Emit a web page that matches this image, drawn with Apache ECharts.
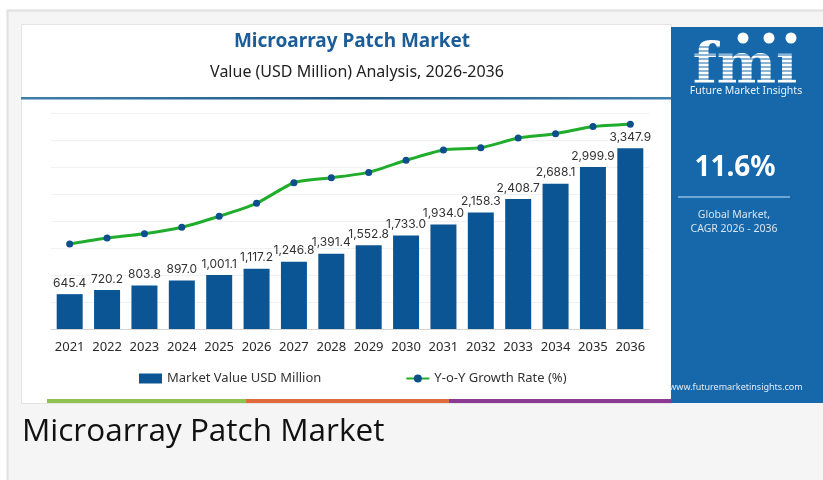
<!DOCTYPE html>
<html>
<head>
<meta charset="utf-8">
<script src="https://cdn.jsdelivr.net/npm/echarts@6/dist/echarts.min.js"></script>
<style>
  html, body { margin: 0; padding: 0; background: #fff; }
  #chart { width: 823px; height: 480px; }
</style>
</head>
<body>
<div id="chart"></div>
<script>
// data
const years = ['2021', '2022', '2023', '2024', '2025', '2026', '2027', '2028',
  '2029', '2030', '2031', '2032', '2033', '2034', '2035', '2036']
const marketValue = [645.4, 720.2, 803.8, 897.0, 1001.1, 1117.2, 1246.8, 1391.4,
  1552.8, 1733.0, 1934.0, 2158.3, 2408.7, 2688.1, 2999.9, 3347.9]
// growth line has no printed values, these are estimated positions on a hidden 0-100 axis
const growthRate = [39.4, 42.1, 44.1, 47.1, 52.2, 58.2, 67.7, 70.0,
  72.5, 78.1, 82.9, 83.9, 88.4, 90.4, 93.7, 94.8]
const cagr = '11.6%'

const FONT = 'Noto Sans'
const PANEL = '#1668aa'

const fmt = (v) => v.toLocaleString('en-US', { minimumFractionDigits: 1, maximumFractionDigits: 1 })

// stripes over the fmi letters
const stripes = []
for (let y = 47; y <= 83; y += 4) {
  stripes.push({
    type: 'line', z: 6, silent: true,
    shape: { x1: 686, y1: y, x2: 806, y2: y },
    style: { stroke: PANEL, lineWidth: 1.1 }
  })
}

const chart = echarts.init(document.getElementById('chart'))

chart.setOption({
  animation: false,
  textStyle: { fontFamily: FONT },
  graphic: [
    // outer card
    { type: 'rect', z: -5, shape: { x: 7.5, y: 10.5, width: 830, height: 480 },
      style: { fill: '#f5f5f5', stroke: '#e0e0e0', lineWidth: 2 } },
    // image area
    { type: 'rect', z: -4, shape: { x: 21.5, y: 24.5, width: 650, height: 379 },
      style: { fill: '#fff', stroke: '#e4e4e4', lineWidth: 1 } },
    // separator under title
    { type: 'rect', z: -3, shape: { x: 21, y: 97, width: 650, height: 2.5 },
      style: { fill: new echarts.graphic.LinearGradient(0, 0, 1, 0, [
        { offset: 0, color: '#3f7fae' }, { offset: 0.5, color: '#1d5a88' }, { offset: 1, color: '#3f7fae' }]) } },
    // bottom colour strip
    { type: 'rect', z: -3, shape: { x: 47, y: 399, width: 199, height: 4 }, style: { fill: '#8fc24f' } },
    { type: 'rect', z: -3, shape: { x: 246, y: 399, width: 203, height: 4 }, style: { fill: '#e06b3c' } },
    { type: 'rect', z: -3, shape: { x: 449, y: 399, width: 222, height: 4 }, style: { fill: '#8b3a93' } },
    // right panel
    { type: 'rect', z: -3, shape: { x: 671, y: 27, width: 152, height: 376 }, style: { fill: PANEL } },
    { type: 'text', z: 5, x: 745, y: 96,
      style: { text: 'fmı', fill: '#fff', font: 'bold 56px "DejaVu Serif"', textAlign: 'center', textVerticalAlign: 'bottom' } },
    ...stripes,
    { type: 'circle', z: 7, shape: { cx: 743, cy: 38, r: 5.5 }, style: { fill: '#fff' } },
    { type: 'circle', z: 7, shape: { cx: 769, cy: 38, r: 5.5 }, style: { fill: '#fff' } },
    { type: 'circle', z: 7, shape: { cx: 791, cy: 38, r: 5.5 }, style: { fill: '#fff' } },
    { type: 'text', z: 7, x: 746, y: 91,
      style: { text: 'Future Market Insights', fill: '#e8f0f8', font: '10.5px ' + FONT, textAlign: 'center', textVerticalAlign: 'middle' } },
    { type: 'text', z: 7, x: 735, y: 168,
      style: { text: cagr, fill: '#fff', font: 'bold 28px ' + FONT, textAlign: 'center', textVerticalAlign: 'middle' } },
    { type: 'line', z: 7, shape: { x1: 678, y1: 197, x2: 790, y2: 197 }, style: { stroke: '#8dbbe0', lineWidth: 1.5 } },
    { type: 'text', z: 7, x: 734, y: 215,
      style: { text: 'Global Market,', fill: '#d6e4f1', font: '10.5px ' + FONT, textAlign: 'center', textVerticalAlign: 'middle' } },
    { type: 'text', z: 7, x: 734, y: 229,
      style: { text: 'CAGR 2026 - 2036', fill: '#d6e4f1', font: '10.5px ' + FONT, textAlign: 'center', textVerticalAlign: 'middle' } },
    { type: 'text', z: 7, x: 736, y: 387,
      style: { text: 'www.futuremarketinsights.com', fill: '#e0ebf5', font: '9px ' + FONT, textAlign: 'center', textVerticalAlign: 'middle' } },
    // titles
    { type: 'text', z: 7, x: 352, y: 42,
      style: { text: 'Microarray Patch Market', fill: '#1c5d98', font: 'bold 19px ' + FONT, textAlign: 'center', textVerticalAlign: 'middle' } },
    { type: 'text', z: 7, x: 357, y: 72,
      style: { text: 'Value (USD Million) Analysis, 2026-2036', fill: '#222', font: '16px ' + FONT, textAlign: 'center', textVerticalAlign: 'middle' } },
    // caption below image
    { type: 'text', z: 7, x: 22, y: 432,
      style: { text: 'Microarray Patch Market', fill: '#111', font: '31.5px "Open Sans"', textAlign: 'left', textVerticalAlign: 'middle' } }
  ],
  legend: {
    left: 134,
    top: 367,
    itemGap: 84,
    itemWidth: 23,
    itemHeight: 10,
    textStyle: { fontSize: 13, color: '#333', fontFamily: FONT },
    data: [
      { name: 'Market Value USD Million', icon: 'rect' },
      { name: 'Y-o-Y Growth Rate (%)' }
    ]
  },
  grid: { left: 51, right: 174, top: 113, bottom: 151 },
  xAxis: {
    type: 'category',
    data: years,
    axisLine: { lineStyle: { color: '#d4d4d4' } },
    axisTick: { length: 5, lineStyle: { color: '#d4d4d4' } },
    axisLabel: { color: '#2a2a2a', fontSize: 13, margin: 12, interval: 0 }
  },
  yAxis: [
    {
      type: 'value', min: 0, max: 4000, interval: 500,
      axisLabel: { show: false }, axisLine: { show: false }, axisTick: { show: false },
      splitLine: { lineStyle: { color: '#f1f1f1' } }
    },
    {
      type: 'value', min: 0, max: 100, show: false, splitLine: { show: false }
    }
  ],
  series: [
    {
      name: 'Market Value USD Million',
      type: 'bar',
      data: marketValue,
      barWidth: 26,
      itemStyle: { color: '#0b5595' },
      label: {
        show: true, position: 'top', distance: 5,
        color: '#333', fontSize: 12, fontFamily: 'Inter',
        formatter: (p) => fmt(p.value)
      }
    },
    {
      name: 'Y-o-Y Growth Rate (%)',
      type: 'line',
      yAxisIndex: 1,
      data: growthRate,
      smooth: 0.2,
      symbol: 'circle',
      symbolSize: 7,
      itemStyle: { color: '#0d4f8b' },
      lineStyle: { color: '#21ad2c', width: 3 }
    }
  ]
})
</script>
</body>
</html>
